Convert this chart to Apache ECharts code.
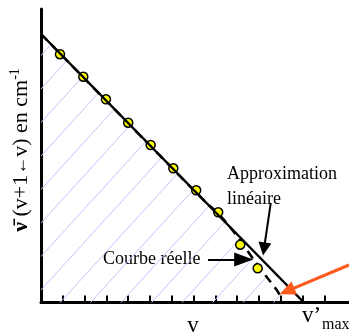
<!DOCTYPE html>
<html><head><meta charset="utf-8">
<script src="https://cdn.jsdelivr.net/npm/echarts@6/dist/echarts.min.js"></script>
<style>html,body{margin:0;padding:0;background:#fff}#c{width:349px;height:333px}</style>
</head><body><div id="c"></div>
<script>
// ---- data (x in vibrational quantum number units, y in plot height units) ----
const xTicks = [1,2,3,4,5,6,7,8,9,10,11,12,13];
const pointsX = [0.87,1.94,2.98,4.00,5.03,6.07,7.12,8.13,9.14,9.94];
const pointsY = [248.3,225.8,203.2,179.8,157.5,134.2,112.2,90.2,57.8,34.2];
const linearX = [0, 12.06];
const linearY = [268.5, 0];
const realX = [0, 7.5, 8.13, 8.76, 9.2, 9.72, 10.3, 10.8, 11.05];
const realY = [268.5, 101.5, 89, 73, 60, 44, 27, 13, 4];
const arrowLin = [[10.54, 99.5], [10.23, 53.5]];
const arrowReal = [[7.66, 43], [9.3, 43]];
const arrowOrange = [[14.13, 37.5], [11.28, 11.4]];

const zip = (a, b) => a.map((v, i) => [v, b[i]]);

// hatch pattern
const pc = document.createElement('canvas');
pc.width = 61; pc.height = 67;
const g = pc.getContext('2d');
g.strokeStyle = '#c3c3fb';
g.lineWidth = 1;
for (let k = -3; k <= 3; k++) {
  g.beginPath();
  g.moveTo(k * 30.5, 67);
  g.lineTo(61 + k * 30.5, 0);
  g.stroke();
}

const serif = '"Liberation Serif", "Times New Roman", serif';
const chart = echarts.init(document.getElementById('c'), null, {renderer: 'canvas'});

function arrowSeries(seg, color, width, size) {
  return {
    type: 'line', data: [], silent: true, clip: false, z: 6,
    markLine: {
      silent: true, animation: false,
      symbol: ['none', 'triangle'], symbolSize: size,
      label: {show: false},
      lineStyle: {color: color, width: width, type: 'solid'},
      emphasis: {disabled: true},
      data: [[{coord: seg[0]}, {coord: seg[1]}]]
    }
  };
}

chart.setOption({
  animation: false,
  grid: {left: 41, right: 0, top: 9, bottom: 30.5},
  xAxis: {
    type: 'value', min: 0, max: 14.13,
    axisLine: {show: true, lineStyle: {color: '#000', width: 3}},
    axisTick: {show: true, inside: true, length: 7, customValues: xTicks, lineStyle: {color: '#000', width: 2}},
    axisLabel: {show: false},
    splitLine: {show: false}
  },
  yAxis: {
    type: 'value', min: 0, max: 293.5,
    axisLine: {show: true, lineStyle: {color: '#000', width: 3}},
    axisTick: {show: false},
    axisLabel: {show: false},
    splitLine: {show: false}
  },
  series: [
    {
      type: 'line', data: zip(realX, realY), smooth: 0.3, symbol: 'none', z: 2,
      lineStyle: {color: '#000', width: 2.5, type: [9, 6]},
      areaStyle: {color: {image: pc, repeat: 'repeat'}, opacity: 1}
    },
    {
      type: 'scatter', data: zip(pointsX, pointsY), symbol: 'circle', symbolSize: 9, z: 3,
      itemStyle: {color: '#ffff00', borderColor: '#000', borderWidth: 1.5, opacity: 1}
    },
    {
      type: 'line', data: zip(linearX, linearY), symbol: 'none', z: 4,
      lineStyle: {color: '#000', width: 2.5}
    },
    arrowSeries(arrowLin, '#000', 2, [13, 13]),
    arrowSeries(arrowReal, '#000', 2, [14, 19]),
    arrowSeries(arrowOrange, '#ff5a1e', 3, [14, 16])
  ],
  graphic: [
    {type: 'text', x: 227, y: 174, style: {text: 'Approximation', font: '18px ' + serif, fill: '#000', verticalAlign: 'middle', align: 'left'}},
    {type: 'text', x: 227, y: 199, style: {text: 'linéaire', font: '18px ' + serif, fill: '#000', verticalAlign: 'middle', align: 'left'}},
    {type: 'text', x: 103, y: 259, style: {text: 'Courbe réelle', font: '18px ' + serif, fill: '#000', verticalAlign: 'middle', align: 'left'}},
    {type: 'text', x: 193, y: 326, style: {text: 'v', font: '23px ' + serif, fill: '#000', verticalAlign: 'middle', align: 'center'}},
    {type: 'text', x: 302, y: 316, style: {text: 'v’', font: '23px ' + serif, fill: '#000', verticalAlign: 'middle', align: 'left'}},
    {type: 'text', x: 322, y: 325, style: {text: 'max', font: '16px ' + serif, fill: '#000', verticalAlign: 'middle', align: 'left'}},
    {type: 'text', x: 21, y: 150, rotation: Math.PI / 2,
      style: {
        text: '{b|ν̄} (v+1{a|←}v) en cm{s|-1}',
        font: '22px ' + serif, fill: '#000', align: 'center', verticalAlign: 'middle',
        rich: {
          b: {font: 'bold 22px ' + serif, fill: '#000'},
          a: {font: '18px ' + serif, fill: '#000'},
          s: {font: '14px ' + serif, fill: '#000', padding: [0, 0, 12, 0]}
        }
      }}
  ]
});
</script></body></html>
